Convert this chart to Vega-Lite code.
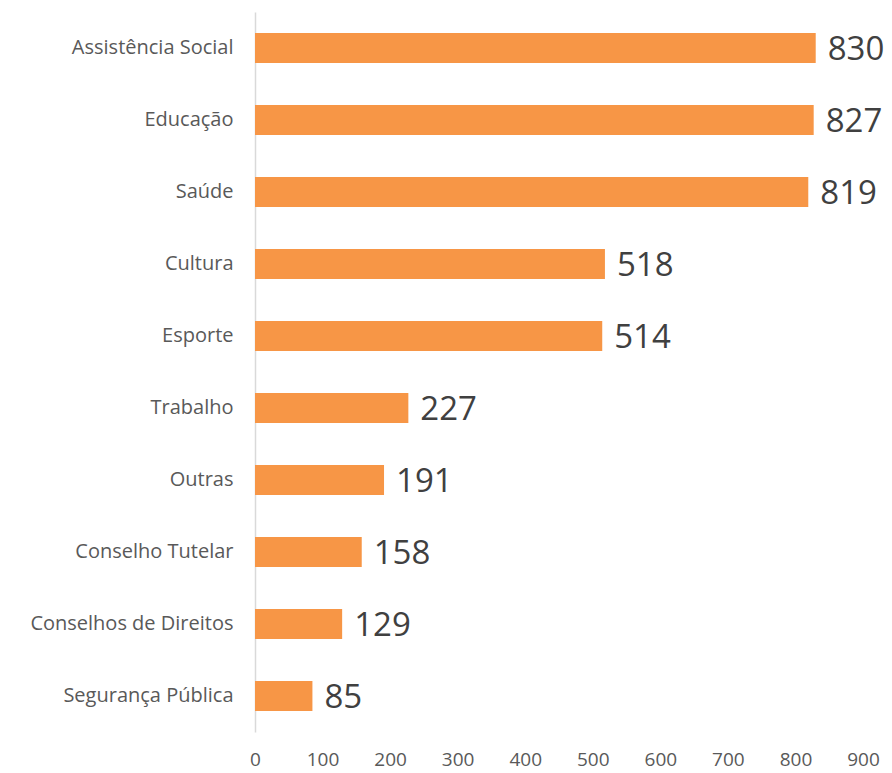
{
  "$schema": "https://vega.github.io/schema/vega-lite/v6.json",
  "autosize": "none",
  "padding": {"left": 255, "top": 12, "right": 29, "bottom": 41},
  "width": 608,
  "height": 720,
  "background": "white",
  "config": {"view": {"stroke": null}, "font": "Open Sans"},
  "data": {"values": [
    {"cat": "Assistência Social", "v": 830},
    {"cat": "Educação", "v": 827},
    {"cat": "Saúde", "v": 819},
    {"cat": "Cultura", "v": 518},
    {"cat": "Esporte", "v": 514},
    {"cat": "Trabalho", "v": 227},
    {"cat": "Outras", "v": 191},
    {"cat": "Conselho Tutelar", "v": 158},
    {"cat": "Conselhos de Direitos", "v": 129},
    {"cat": "Segurança Pública", "v": 85}
  ]},
  "encoding": {
    "y": {"field": "cat", "type": "nominal", "sort": null,
      "scale": {"paddingInner": 0.58, "paddingOuter": 0.29},
      "axis": {"title": null, "ticks": false, "domainColor": "#d9d9d9", "domainWidth": 1.5,
        "labelFontSize": 20, "labelColor": "#595959", "labelPadding": 22, "labelFont": "Open Sans", "labelLimit": 300}},
    "x": {"field": "v", "type": "quantitative",
      "scale": {"domain": [0, 900], "nice": false},
      "axis": {"title": null, "values": [0,100,200,300,400,500,600,700,800,900], "grid": false, "domain": false, "ticks": false,
        "labelFontSize": 19, "labelColor": "#595959", "labelPadding": 18, "labelFlush": false}}
  },
  "layer": [
    {"mark": {"type": "bar", "color": "#F79646"}},
    {"mark": {"type": "text", "align": "left", "dx": 12, "fontSize": 33, "color": "#404040", "baseline": "middle", "dy": 2},
     "encoding": {"text": {"field": "v", "type": "quantitative"}}}
  ]
}
